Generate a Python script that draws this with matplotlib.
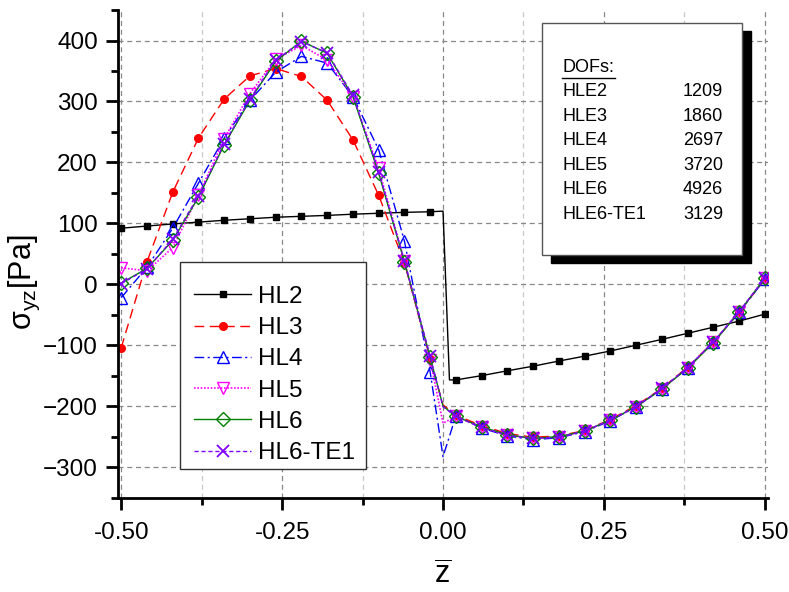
import matplotlib.pyplot as plt
from matplotlib.lines import Line2D
from matplotlib.patches import Rectangle
from matplotlib.ticker import MultipleLocator, FormatStrFormatter

plt.rcParams["font.family"] = ["Liberation Sans", "DejaVu Sans"]
plt.rcParams["mathtext.fontset"] = "custom"
plt.rcParams["mathtext.rm"] = "Liberation Sans"
plt.rcParams["mathtext.it"] = "Liberation Sans"

# through-thickness coordinate (marker stations every 0.04, plus the interface z=0)
z = [-0.50, -0.46, -0.42, -0.38, -0.34, -0.30, -0.26, -0.22, -0.18, -0.14,
     -0.10, -0.06, -0.02, 0.00, 0.02, 0.06, 0.10, 0.14, 0.18, 0.22, 0.26,
     0.30, 0.34, 0.38, 0.42, 0.46, 0.50]
# HL2 has a jump at the interface
z_hl2 = [-0.50, -0.46, -0.42, -0.38, -0.34, -0.30, -0.26, -0.22, -0.18, -0.14,
         -0.10, -0.06, -0.02, 0.00, 0.01, 0.02, 0.06, 0.10, 0.14, 0.18, 0.22,
         0.26, 0.30, 0.34, 0.38, 0.42, 0.46, 0.50]

hl2 = [92, 95.5, 99, 102, 105, 107.5, 110, 111.5, 113, 115, 116.5, 118, 119,
       120, -157,
       -157, -150, -142, -134.5, -126, -118, -109.5, -100, -90.5, -80.5, -70.5,
       -60.5, -49]
hl3 = [-104, 37, 151, 240, 304, 342, 354, 341, 302, 237, 146, 35, -122,
       -198,
       -215, -232, -245, -251, -249, -240, -222, -199, -171, -136, -95, -46, 8]
hl4 = [-22, 28, 92, 166, 240, 302, 348, 374, 363, 308, 221, 71, -144,
       -283,
       -216, -236, -249, -255, -252, -242, -224, -201, -172, -137, -95, -46, 8]
hl5 = [27, 22, 60, 146, 239, 313, 369, 392, 368, 308, 190, 38, -124,
       -228,
       -217, -235, -248, -253, -251, -241, -223, -201, -172, -137, -95, -46, 10]
hl6 = [2, 26, 72, 143, 229, 302, 366, 399, 379, 308, 182, 37, -120,
       -200,
       -217, -234, -247, -253, -250, -241, -223, -201, -172, -138, -96, -46, 10]
hl6_te1 = [1, 25, 74, 145, 231, 304, 368, 398, 380, 310, 185, 38, -118,
           -201,
           -217, -235, -248, -253, -251, -241, -223, -201, -171, -137, -95, -45, 10]

dof_names = ["HLE2", "HLE3", "HLE4", "HLE5", "HLE6", "HLE6-TE1"]
dof_values = ["1209", "1860", "2697", "3720", "4926", "3129"]

marks = [i for i in range(len(z)) if z[i] != 0.0]
marks_hl2 = [i for i in range(len(z_hl2)) if z_hl2[i] not in (0.0, 0.01)]


def main():
    fig = plt.figure(figsize=(7.89, 5.92), dpi=100)
    ax = fig.add_axes([0.1496, 0.1596, 0.8238, 0.8234])

    ax.plot(z_hl2, hl2, color="k", ls="-", lw=1.0, marker="s", ms=5,
            markevery=marks_hl2, label="HL2")
    ax.plot(z, hl3, color="red", ls=(0, (7, 4)), lw=1.0, marker="o", ms=5.5,
            markevery=marks, label="HL3")
    ax.plot(z, hl4, color="blue", ls=(0, (7, 2.5, 1.5, 2.5)), lw=1.0,
            marker="^", ms=8, mfc="none", mew=1.0, markevery=marks, label="HL4")
    ax.plot(z, hl5, color="magenta", ls=(0, (1, 1)), lw=1.2, marker="v",
            ms=8, mfc="none", mew=1.0, markevery=marks, label="HL5")
    ax.plot(z, hl6, color="green", ls="-", lw=1.0, marker="D", ms=7.5,
            mfc="none", mew=1.0, markevery=marks, label="HL6")
    ax.plot(z, hl6_te1, color="#8000ff", ls=(0, (3, 2)), lw=1.0, marker="x",
            ms=8, mew=1.3, markevery=marks, label="HL6-TE1")

    ax.set_xlim(-0.505, 0.505)
    ax.set_ylim(-350, 450)
    ax.xaxis.set_major_locator(MultipleLocator(0.25))
    ax.xaxis.set_minor_locator(MultipleLocator(0.125))
    ax.yaxis.set_major_locator(MultipleLocator(100))
    ax.yaxis.set_minor_locator(MultipleLocator(50))
    ax.xaxis.set_major_formatter(FormatStrFormatter("%.2f"))

    for side in ["top", "right"]:
        ax.spines[side].set_visible(False)
    for side in ["left", "bottom"]:
        ax.spines[side].set_linewidth(2)
    ax.tick_params(which="major", length=8.5, width=2, labelsize=17.5)
    ax.tick_params(which="minor", length=5, width=2)
    ax.tick_params(axis="x", which="major", pad=9)
    ax.tick_params(axis="y", which="major", pad=6)

    ax.grid(which="major", color="#888888", ls=(0, (4, 3)), lw=0.9)
    ax.grid(which="minor", axis="x", color="#c8c8c8", ls=(0, (4, 3)), lw=0.9)
    ax.set_axisbelow(True)

    ax.set_xlabel(r"$\overline{\mathrm{z}}$", fontsize=22, labelpad=12)
    ax.set_ylabel(r"σ$_{\mathrm{yz}}$[Pa]", fontsize=22)
    ax.yaxis.set_label_coords(-0.117, 0.442)

    # legend frame drawn separately so the rows can sit where they do in the original
    ax.add_patch(Rectangle((0.0954, 0.0585), 0.286, 0.4246,
                           transform=ax.transAxes, facecolor="white",
                           edgecolor="#333333", lw=1.0, zorder=4))
    ax.legend(loc="upper left", bbox_to_anchor=(0.117, 0.434),
              borderaxespad=0, borderpad=0, fontsize=17.5, handlelength=2.35,
              frameon=False, labelspacing=0.38, handletextpad=0.29)

    # DOFs box with a solid drop shadow
    W, H = 789.0, 592.0
    x0, x1, ytop, ybot = 542, 742, 23, 255
    fig.add_artist(Rectangle(((x0 + 9) / W, (H - ybot - 8) / H),
                             (x1 - x0) / W, (ybot - ytop) / H,
                             transform=fig.transFigure, facecolor="k",
                             edgecolor="k", zorder=5))
    fig.add_artist(Rectangle((x0 / W, (H - ybot) / H),
                             (x1 - x0) / W, (ybot - ytop) / H,
                             transform=fig.transFigure, facecolor="white",
                             edgecolor="#555555", lw=1.0, zorder=6))
    fig.text(562 / W, (H - 68) / H, "DOFs:", fontsize=13, va="center",
             ha="left", zorder=7)
    fig.add_artist(Line2D([562 / W, 615 / W], [(H - 77.5) / H, (H - 77.5) / H],
                          transform=fig.transFigure, color="k", lw=1.0,
                          zorder=7))
    for i, (name, val) in enumerate(zip(dof_names, dof_values)):
        yc = (H - (91.7 + 24.5 * i)) / H
        fig.text(562 / W, yc, name, fontsize=13, va="center", ha="left",
                 zorder=7)
        fig.text(723 / W, yc, val, fontsize=13, va="center", ha="right",
                 zorder=7)

    fig.savefig("out.png", dpi=100)


if __name__ == "__main__":
    main()
